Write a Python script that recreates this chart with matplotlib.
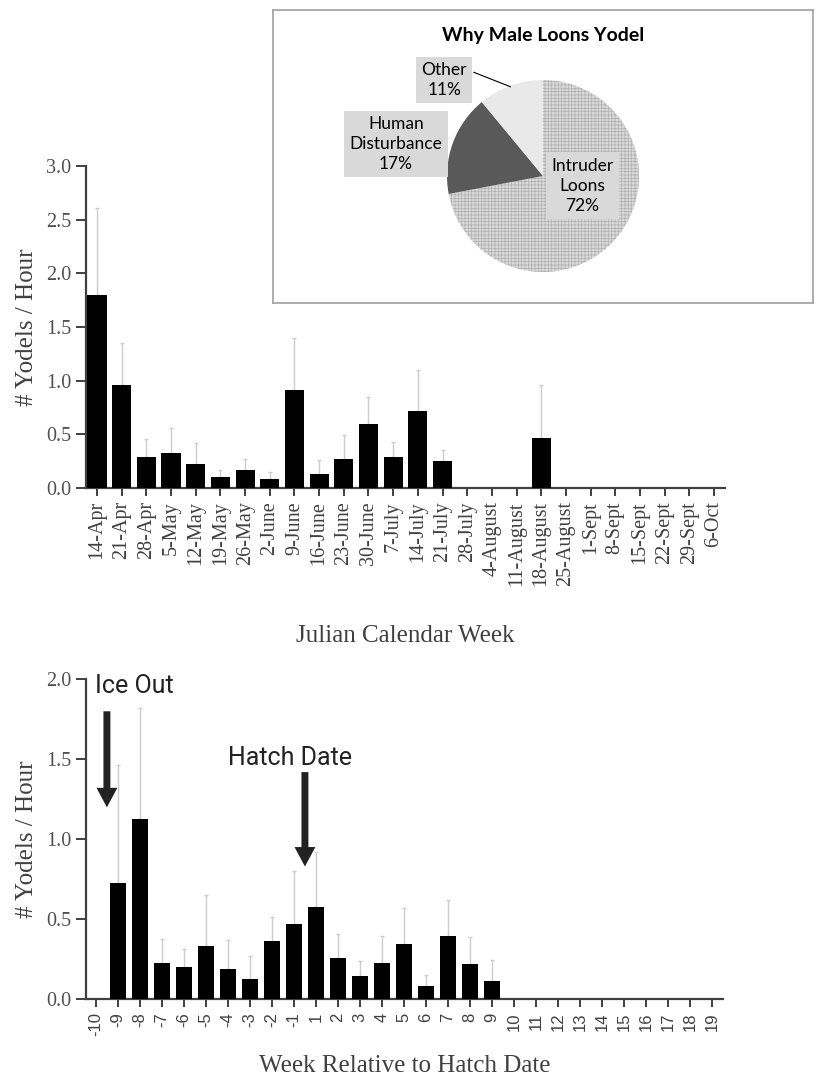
import numpy as np
import matplotlib
matplotlib.use('Agg')
import matplotlib.pyplot as plt

# --- data -------------------------------------------------------------
weeks = ['14-Apr', '21-Apr', '28-Apr', '5-May', '12-May', '19-May', '26-May',
         '2-June', '9-June', '16-June', '23-June', '30-June', '7-July', '14-July',
         '21-July', '28-July', '4-August', '11-August', '18-August', '25-August',
         '1-Sept', '8-Sept', '15-Sept', '22-Sept', '29-Sept', '6-Oct']
week_mean = [1.80, 0.96, 0.29, 0.33, 0.22, 0.10, 0.17, 0.08, 0.91, 0.13, 0.27, 0.60,
             0.29, 0.72, 0.25, 0, 0, 0, 0.47, 0, 0, 0, 0, 0, 0, 0]
week_err = [0.81, 0.39, 0.17, 0.23, 0.20, 0.07, 0.10, 0.07, 0.49, 0.13, 0.22, 0.25,
            0.14, 0.38, 0.10, 0, 0, 0, 0.49, 0, 0, 0, 0, 0, 0, 0]

rel_weeks = ['-10', '-9', '-8', '-7', '-6', '-5', '-4', '-3', '-2', '-1',
             '1', '2', '3', '4', '5', '6', '7', '8', '9', '10',
             '11', '12', '13', '14', '15', '16', '17', '18', '19']
rel_mean = [0, 0.73, 1.13, 0.23, 0.20, 0.335, 0.19, 0.125, 0.365, 0.47,
            0.575, 0.26, 0.146, 0.23, 0.345, 0.083, 0.396, 0.219, 0.117,
            0, 0, 0, 0, 0, 0, 0, 0, 0, 0]
rel_err = [0, 0.735, 0.69, 0.15, 0.115, 0.315, 0.18, 0.145, 0.15, 0.33,
           0.345, 0.15, 0.094, 0.166, 0.225, 0.069, 0.224, 0.171, 0.129,
           0, 0, 0, 0, 0, 0, 0, 0, 0, 0]

reasons = ['Intruder\nLoons', 'Human\nDisturbance', 'Other']
reason_pct = [72, 17, 11]

# --- styling helpers ----------------------------------------------------
SERIF = 'Liberation Serif'
SANS = 'Liberation Sans'
W, H = 817, 1081


def px_axes(fig, x0, y0, x1, y1):
    # axes from pixel box (top-left origin)
    return fig.add_axes([x0 / W, 1 - y1 / H, (x1 - x0) / W, (y1 - y0) / H])


def style_bar_axes(ax):
    for s in ['top', 'right']:
        ax.spines[s].set_visible(False)
    for s in ['left', 'bottom']:
        ax.spines[s].set_color('#404040')
        ax.spines[s].set_linewidth(1.6)
    ax.tick_params(axis='both', direction='out', color='#404040', width=1.4)
    ax.tick_params(axis='y', length=7, labelsize=14.5, labelcolor='#505050')
    ax.tick_params(axis='x', length=6)
    for lab in ax.get_yticklabels():
        lab.set_fontfamily(SERIF)


def draw_bars(ax, means, errs, width):
    x = np.arange(len(means))
    means = np.array(means)
    errs = np.array(errs)
    ax.bar(x, means, width=width, color='black', zorder=3)
    m = means > 0
    ax.errorbar(x[m], means[m], yerr=[np.zeros(m.sum()), errs[m]], fmt='none',
                ecolor='#cccccc', elinewidth=1.0, capsize=1.5, capthick=1.0, zorder=2)
    return x


fig = plt.figure(figsize=(W / 100, H / 100), dpi=100)

# --- top chart: calendar week --------------------------------------------
ax1 = px_axes(fig, 86, 166, 725, 488)
x1 = draw_bars(ax1, week_mean, week_err, 0.78)
ax1.set_xlim(-0.45, len(weeks) - 0.55)
ax1.set_ylim(0, 3.0)
ax1.set_yticks(np.arange(0, 3.01, 0.5))
ax1.set_yticklabels(['%.1f' % v for v in np.arange(0, 3.01, 0.5)])
ax1.set_xticks(x1)
ax1.set_xticklabels(weeks, rotation=90, fontfamily=SERIF, fontsize=14.5, color='#404040')
style_bar_axes(ax1)
ax1.set_ylabel('# Yodels / Hour', fontfamily=SERIF, fontsize=18, color='#404040', labelpad=6)
ax1.set_xlabel('Julian Calendar Week', fontfamily=SERIF, fontsize=18, color='#404040', labelpad=28)

# --- bottom chart: weeks relative to hatch ----------------------------------
ax2 = px_axes(fig, 86, 679.3, 723, 999.3)
x2 = draw_bars(ax2, rel_mean, rel_err, 0.73)
ax2.set_xlim(-0.45, len(rel_weeks) - 0.5)
ax2.set_ylim(0, 2.0)
ax2.set_yticks(np.arange(0, 2.01, 0.5))
ax2.set_yticklabels(['%.1f' % v for v in np.arange(0, 2.01, 0.5)])
ax2.set_xticks(x2)
ax2.set_xticklabels(rel_weeks, rotation=90, fontfamily=SANS, fontsize=12, color='#404040')
style_bar_axes(ax2)
ax2.set_ylabel('# Yodels / Hour', fontfamily=SERIF, fontsize=18, color='#404040', labelpad=6)
ax2.set_xlabel('Week Relative to Hatch Date', fontfamily=SERIF, fontsize=18, color='#404040', labelpad=13)

arrow = dict(facecolor='#222222', edgecolor='none', width=5, headwidth=15, headlength=14, shrink=0)
ax2.text(-0.05, 1.96, 'Ice Out', fontfamily='Roboto', fontsize=18, color='#222222', ha='left', va='center')
ax2.annotate('', xy=(0.5, 1.20), xytext=(0.5, 1.80), arrowprops=arrow)
ax2.text(8.8, 1.51, 'Hatch Date', fontfamily='Roboto', fontsize=18, color='#222222', ha='center', va='center')
ax2.annotate('', xy=(9.5, 0.83), xytext=(9.5, 1.42), arrowprops=arrow)

# --- inset pie -----------------------------------------------------------
box = px_axes(fig, 273, 10, 813, 303)
box.set_xticks([])
box.set_yticks([])
box.set_facecolor('white')
for s in box.spines.values():
    s.set_color('#a0a0a0')
    s.set_linewidth(1.2)
box.set_zorder(5)

fig.text(543 / W, 1 - 35 / H, 'Why Male Loons Yodel', fontfamily='Lato', fontweight='bold',
         fontsize=14, ha='center', va='center', zorder=10)

plt.rcParams['hatch.linewidth'] = 0.5
axp = px_axes(fig, 543 - 96, 176 - 96, 543 + 96, 176 + 96)
axp.set_zorder(6)
wedges, _ = axp.pie(reason_pct, colors=['#d9d9d9', '#595959', '#e9e9e9'], startangle=90,
                    counterclock=False, radius=1, wedgeprops=dict(linewidth=0))
wedges[0].set_hatch('+++++')
wedges[0].set_edgecolor('#b0b0b0')
wedges[0].set_linewidth(0)
axp.set_xlim(-1, 1)
axp.set_ylim(-1, 1)

lbl = dict(fontfamily='Lato', fontsize=12.5, ha='center', va='center', linespacing=1.3,
           bbox=dict(boxstyle='square,pad=0.3', facecolor='#d9d9d9', edgecolor='none'))
axp.text(0.41, -0.10, '%s\n%d%%' % (reasons[0], reason_pct[0]), **lbl)
axp.text(-1.53, 0.33, '%s\n%d%%' % (reasons[1], reason_pct[1]), **lbl)
axp.text(-1.03, 1.00, '%s\n%d%%' % (reasons[2], reason_pct[2]), **lbl)
axp.plot([-0.72, -0.34], [1.08, 0.93], color='black', lw=0.8, clip_on=False)

plt.savefig('out.png', dpi=100)
